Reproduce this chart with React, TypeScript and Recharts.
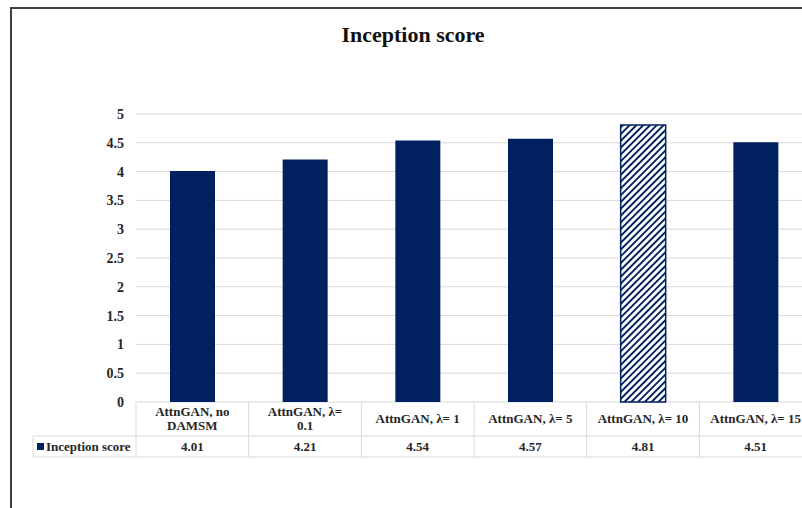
import { BarChart, Bar, XAxis, YAxis, CartesianGrid, Cell } from 'recharts';

const categories = ['AttnGAN, no DAMSM', 'AttnGAN, λ= 0.1', 'AttnGAN, λ= 1', 'AttnGAN, λ= 5', 'AttnGAN, λ= 10', 'AttnGAN, λ= 15'];
const categoryLines = [['AttnGAN, no', 'DAMSM'], ['AttnGAN, λ=', '0.1'], ['AttnGAN, λ= 1'], ['AttnGAN, λ= 5'], ['AttnGAN, λ= 10'], ['AttnGAN, λ= 15']];
const inceptionScore = [4.01, 4.21, 4.54, 4.57, 4.81, 4.51];
const yTicks = [0, 0.5, 1, 1.5, 2, 2.5, 3, 3.5, 4, 4.5, 5];
const seriesName = 'Inception score';

const data = categories.map((c, i) => ({ name: c, score: inceptionScore[i] }));

const FONT = "'Liberation Serif', Tinos, 'DejaVu Serif', serif";
const NAVY = '#002060';
const GRID = '#d9d9d9';

const W = 830;
const H = 508;
const PLOT_LEFT = 136;
const PLOT_RIGHT = 812;
const AXIS_H = 55;
const ROW1 = 34;
const band = (PLOT_RIGHT - PLOT_LEFT) / categories.length;

function TableTick(props: any) {
  const { x, y, index } = props;
  const lines = categoryLines[index];
  const left = x - band / 2;
  const right = x + band / 2;
  return (
    <g fontFamily={FONT} fontWeight="bold" fill="#262626" style={{ fontFamily: FONT }}>
      <line x1={left} y1={y} x2={left} y2={y + AXIS_H} stroke={GRID} />
      {index === categories.length - 1 && <line x1={right} y1={y} x2={right} y2={y + AXIS_H} stroke={GRID} />}
      <line x1={left} y1={y + ROW1} x2={right} y2={y + ROW1} stroke={GRID} />
      <line x1={left} y1={y + AXIS_H} x2={right} y2={y + AXIS_H} stroke={GRID} />
      {lines.map((l, k) => (
        <text key={k} x={x} y={y + (lines.length === 1 ? 21 : 14 + k * 14)} textAnchor="middle" fontSize={13}>
          {l}
        </text>
      ))}
      <text x={x} y={y + ROW1 + 15} textAnchor="middle" fontSize={13}>
        {inceptionScore[index].toFixed(2)}
      </text>
      {index === 0 && (
        <g>
          <line x1={33} y1={y + ROW1} x2={left} y2={y + ROW1} stroke={GRID} />
          <line x1={33} y1={y + AXIS_H} x2={left} y2={y + AXIS_H} stroke={GRID} />
          <line x1={33} y1={y + ROW1} x2={33} y2={y + AXIS_H} stroke={GRID} />
          <rect x={37} y={y + ROW1 + 7} width={7} height={7} fill={NAVY} />
          <text x={46} y={y + ROW1 + 15} fontSize={13}>
            {seriesName}
          </text>
        </g>
      )}
    </g>
  );
}

export default function App() {
  return (
    <div style={{ position: 'fixed', left: 0, top: 0, width: 802, height: 508, overflow: 'hidden', background: '#fff' }}>
      <div
        style={{
          position: 'absolute',
          left: 10,
          top: 7,
          width: 840,
          height: 520,
          borderLeft: '2px solid #404040',
          borderTop: '2px solid #404040',
        }}
      />
      <div
        style={{
          position: 'absolute',
          left: 0,
          width: 826,
          top: 22,
          textAlign: 'center',
          fontFamily: FONT,
          fontWeight: 'bold',
          fontSize: 22,
          color: '#111',
        }}
      >
        Inception score
      </div>
      <div style={{ position: 'absolute', left: 0, top: 0 }}>
        <BarChart
          width={W}
          height={H}
          data={data}
          margin={{ top: 114, right: W - PLOT_RIGHT, bottom: H - 402 - AXIS_H, left: 0 }}
          barCategoryGap="30%"
        >
          <defs>
            <pattern id="stripes" patternUnits="userSpaceOnUse" width="4.8" height="4.8" patternTransform="rotate(45)">
              <rect width="4.8" height="4.8" fill="#fff" />
              <rect width="1.9" height="4.8" fill={NAVY} />
            </pattern>
          </defs>
          <CartesianGrid vertical={false} stroke={GRID} />
          <YAxis
            width={PLOT_LEFT}
            domain={[0, 5]}
            ticks={yTicks}
            axisLine={false}
            tickLine={false}
            tickSize={0}
            tickMargin={12}
            tick={{ fontFamily: FONT, fontWeight: 'bold', fontSize: 14, fill: '#262626', style: { fontFamily: FONT } }}
            tickFormatter={(v: number) => String(v)}
          />
          <XAxis
            dataKey="name"
            height={AXIS_H}
            axisLine={false}
            tickLine={false}
            tickSize={0}
            tickMargin={0}
            interval={0}
            tick={<TableTick />}
          />
          <Bar dataKey="score" barSize={45} isAnimationActive={false}>
            {data.map((d, i) => (
              <Cell key={d.name} fill={i === 4 ? 'url(#stripes)' : NAVY} stroke={i === 4 ? NAVY : 'none'} strokeWidth={1.5} />
            ))}
          </Bar>
        </BarChart>
      </div>
    </div>
  );
}
